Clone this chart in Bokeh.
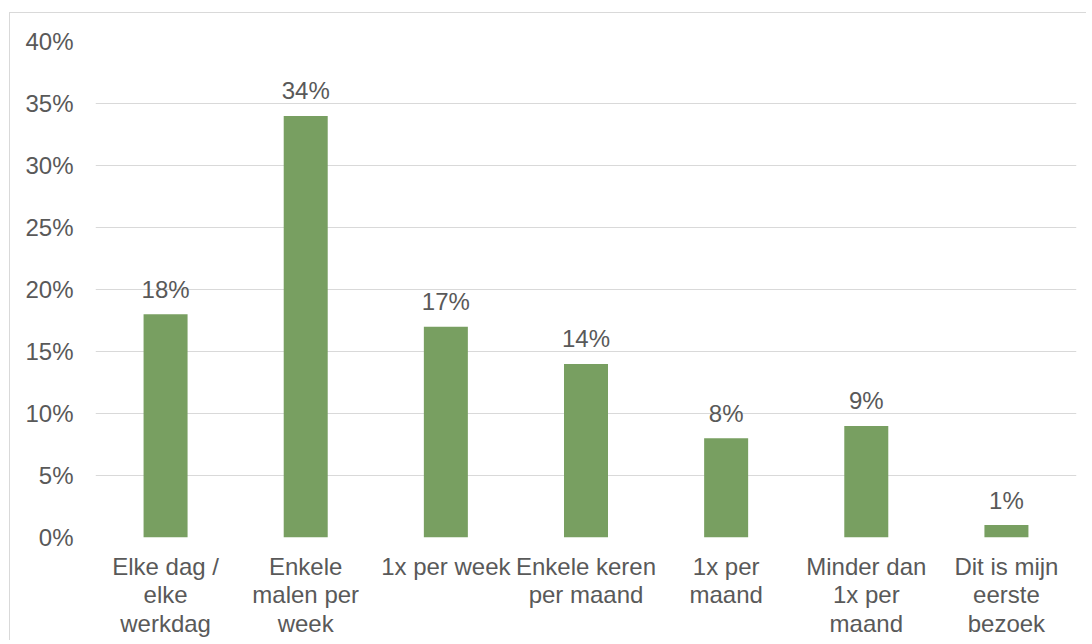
from bokeh.plotting import figure
from bokeh.models import ColumnDataSource, FactorRange, Range1d, SingleIntervalTicker, NumeralTickFormatter
from bokeh.core.properties import value
from bokeh.embed import file_html
from bokeh.resources import INLINE

categories = ["Elke dag /\nelke\nwerkdag", "Enkele\nmalen per\nweek", "1x per week",
              "Enkele keren\nper maand", "1x per\nmaand", "Minder dan\n1x per\nmaand",
              "Dit is mijn\neerste\nbezoek"]
values = [18, 34, 17, 14, 8, 9, 1]
labels = ["18%", "34%", "17%", "14%", "8%", "9%", "1%"]

FONT = "Liberation Sans"
TXT = "#595959"
GRID = "#d9d9d9"
BAR = "#789F61"

src = ColumnDataSource(dict(cat=categories, val=values, lab=labels))

p = figure(x_range=FactorRange(*categories, range_padding=0), y_range=Range1d(0, 40),
           frame_width=981, frame_height=496, min_border_left=85, min_border_top=28,
           min_border_right=10, min_border_bottom=5,
           output_backend="svg", toolbar_location=None)
p.styles = {"border-left": "1px solid #d9d9d9", "border-top": "1px solid #d9d9d9",
            "margin-left": "9px", "margin-top": "12px"}
p.outline_line_color = None
p.background_fill_color = "white"
p.border_fill_color = "white"

p.vbar(x="cat", top="val", width=0.314, source=src, fill_color=BAR, line_color=None)
p.text(x="cat", y="val", text="lab", source=src, y_offset=-25, text_align="center",
       text_baseline="alphabetic", text_font=value(FONT), text_font_size="24px", text_color=TXT)

p.ygrid.grid_line_color = GRID
p.ygrid.grid_line_width = 1
p.xgrid.grid_line_color = None
p.yaxis.ticker = SingleIntervalTicker(interval=5)
p.yaxis.formatter = NumeralTickFormatter(format="0")
p.yaxis.major_label_overrides = {v: f"{v}%" for v in range(0, 45, 5)}

for ax in (p.xaxis, p.yaxis):
    ax.axis_line_color = None
    ax.major_tick_line_color = None
    ax.minor_tick_line_color = None
    ax.major_label_text_font = FONT
    ax.major_label_text_font_size = "24px"
    ax.major_label_text_color = TXT
p.yaxis.major_label_standoff = 16
p.xaxis.major_label_standoff = 9
p.xaxis.major_label_text_line_height = 1.07

open("out.html", "w").write(file_html(p, INLINE))
